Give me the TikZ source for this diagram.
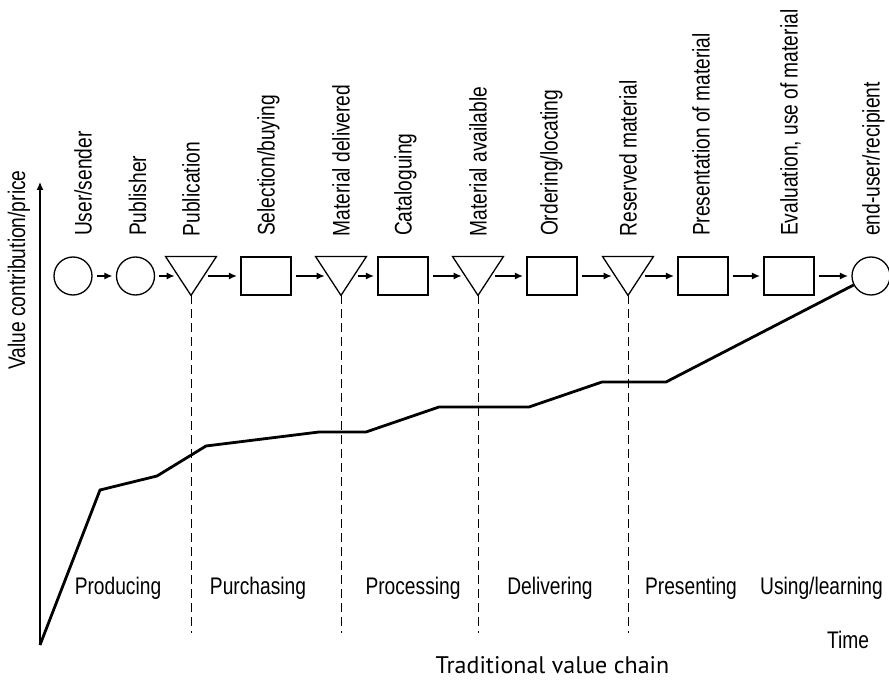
\documentclass[tikz,border=0pt]{standalone}
\usepackage{fontspec}
\setmainfont{Liberation Sans}
\newfontfamily\narrowfont{Liberation Sans}[FakeStretch=0.8]
\newfontfamily\chainfont{PT Sans}
\usepackage{tikz}
\usetikzlibrary{arrows.meta,positioning,calc}

\begin{document}
\begin{tikzpicture}[x=0.5pt, y=0.5pt,
  every node/.style={font=\narrowfont\fontsize{12}{14}\selectfont, inner sep=0pt},
  actor/.style={circle, draw, line width=0.65pt, minimum size=19pt},
  task/.style={rectangle, draw, line width=0.65pt, minimum width=25pt, minimum height=19pt},
  stock/.style={rectangle, minimum width=12.5pt, minimum height=19pt},
  flow/.style={-{Latex[length=4pt,width=3.5pt]}, line width=0.6pt, shorten <=2pt, shorten >=1.75pt},
  tag/.style={rotate=90, anchor=west, text height=8.6pt, text depth=0pt},
  divider/.style={dash pattern=on 4.5pt off 2.5pt, line width=0.5pt},
  value/.style={line width=1.4pt, line join=miter}]
\useasboundingbox (0,0) rectangle (889,681);

% chain of steps
\node[actor] (n1) at (73,405) {};
\node[actor] (n2) at (135.5,405) {};
\node[stock] (n3) at (191,405) {};
\node[task] (n4) at (266,405) {};
\node[stock] (n5) at (341,405) {};
\node[task] (n6) at (403,405) {};
\node[stock] (n7) at (478,405) {};
\node[task] (n8) at (552,405) {};
\node[stock] (n9) at (628,405) {};
\node[task] (n10) at (703,405) {};
\node[task] (n11) at (789,405) {};
\node[actor] (n12) at (871,405) {};

\foreach \t in {n3,n5,n7,n9}
  \draw[line width=0.65pt, line join=miter] ([xshift=-6.25pt]\t.north west) -- ([xshift=6.25pt]\t.north east) -- (\t.south) -- cycle;

\foreach \a/\b in {n1/n2,n2/n3,n3/n4,n4/n5,n5/n6,n6/n7,n7/n8,n8/n9,n9/n10,n10/n11,n11/n12}
  \draw[flow] (\a) -- (\b);

% step labels
\node[tag] (l1) at ([xshift=5pt,yshift=10pt]n1.north) {User/sender};
\node[tag] (l2) at ([xshift=1pt,yshift=10pt]n2.north) {Publisher};
\node[tag] (l3) at ([yshift=10pt]n3.north) {Publication};
\node[tag] (l4) at ([yshift=10pt]n4.north) {Selection/buying};
\node[tag] (l5) at ([yshift=10pt]n5.north) {Material delivered};
\node[tag] (l6) at ([yshift=10pt]n6.north) {Cataloguing};
\node[tag] (l7) at ([yshift=10pt]n7.north) {Material available};
\node[tag] (l8) at ([xshift=-1.5pt,yshift=10pt]n8.north) {Ordering/locating};
\node[tag] (l9) at ([yshift=10pt]n9.north) {Reserved material};
\node[tag] (l10) at ([xshift=-1pt,yshift=10pt]n10.north) {Presentation of material};
\node[tag] (l11) at ([yshift=10pt]n11.north) {Evaluation, use of material};
\node[tag] (l12) at ([yshift=10pt]n12.north) {end-user/recipient};

% phase borders
\coordinate (d3) at (191,48);
\coordinate (d5) at (341,48);
\coordinate (d7) at (478,48);
\coordinate (d9) at (628,48);
\foreach \t/\d in {n3/d3,n5/d5,n7/d7,n9/d9}
  \draw[divider] (\t.south) -- (\d);

% axis and value curve
\coordinate (o) at (40,36);
\coordinate (ytop) at (40,499);
\draw[-{Latex[length=4pt,width=3.5pt]}, line width=0.6pt] (o) -- (ytop);
\node[rotate=90, text height=8.6pt, text depth=0pt] (ylab) at (16.5,411) {Value contribution/price};

\draw[value] (o) -- (100,191) -- (157,205) -- (206,235) -- (319,249) -- (366,249)
  -- (439,274) -- (529,274) -- (602,299) -- (666,299) -- (n12);

% phases
\node[anchor=base] (p1) at (118,87) {Producing};
\node[anchor=base] (p2) at (258,87) {Purchasing};
\node[anchor=base] (p3) at (413,87) {Processing};
\node[anchor=base] (p4) at (550,87) {Delivering};
\node[anchor=base] (p5) at (691,87) {Presenting};
\node[anchor=base] (p6) at (821.5,87) {Using/learning};

\node[anchor=base] (time) at (848,33) {Time};
\node[anchor=base, font=\chainfont\fontsize{12}{14}\selectfont] (chain) at (552.5,8) {Traditional value chain};

\end{tikzpicture}
\end{document}
